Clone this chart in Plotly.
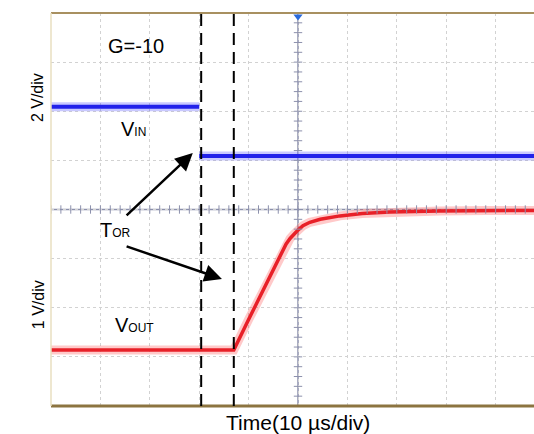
import numpy as np
import plotly.graph_objects as go

# Time axis in microseconds (10 us/div); vertical axis in screen divisions (centre = 0)
vin_t = [0.0, 30.0, None, 30.0, 97.8]
vin_y = [2.09, 2.09, None, 1.09, 1.09]

vout_t = [0, 37.0, 40, 44, 46.5, 47.6, 48.4, 49.2, 50.0, 51.0, 52.4, 54.5, 58.5, 63, 68.6, 78.7, 88, 97.8]
vout_y = [-2.86, -2.86, -2.24, -1.41, -0.90, -0.70, -0.59, -0.50, -0.42, -0.33, -0.26, -0.20,
          -0.13, -0.08, -0.05, -0.03, -0.02, -0.02]

tor_start = 30.4
tor_end = 37.0

X_RANGE = [0, 97.77]
Y_RANGE = [-4, 4]
FONT = "Liberation Sans, Arial, sans-serif"

fig = go.Figure()

# glow + core traces
fig.add_trace(go.Scatter(x=vin_t, y=vin_y, mode="lines",
                         line=dict(color="rgba(60,60,255,0.28)", width=9), hoverinfo="skip"))
fig.add_trace(go.Scatter(x=vin_t, y=vin_y, mode="lines",
                         line=dict(color="#2222ea", width=4), hoverinfo="skip"))
fig.add_trace(go.Scatter(x=vout_t, y=vout_y, mode="lines",
                         line=dict(color="rgba(255,60,60,0.28)", width=9), hoverinfo="skip"))
fig.add_trace(go.Scatter(x=vout_t, y=vout_y, mode="lines",
                         line=dict(color="#e82028", width=3.5), hoverinfo="skip"))

# centre axes tick marks
axis_col = "#8c90ac"
xt = np.arange(0, 98, 2.0)
fig.add_trace(go.Scatter(x=xt, y=np.zeros_like(xt), mode="markers",
                         marker=dict(symbol="line-ns", size=6, line=dict(color=axis_col, width=1)),
                         hoverinfo="skip"))
yt = np.arange(-4, 4.01, 0.2)
fig.add_trace(go.Scatter(x=np.full_like(yt, 50.0), y=yt, mode="markers",
                         marker=dict(symbol="line-ew", size=6, line=dict(color=axis_col, width=1)),
                         hoverinfo="skip"))
# trigger marker
fig.add_trace(go.Scatter(x=[50], y=[3.93], mode="markers", cliponaxis=False,
                         marker=dict(symbol="triangle-down", size=8, color="#2a6adc"),
                         hoverinfo="skip"))

shapes = [
    dict(type="line", xref="x", yref="paper", x0=50, x1=50, y0=0, y1=1,
         line=dict(color=axis_col, width=1.5), layer="below"),
    dict(type="line", xref="paper", yref="y", x0=0, x1=1, y0=0, y1=0,
         line=dict(color=axis_col, width=1.5), layer="below"),
    dict(type="line", xref="paper", yref="paper", x0=0, x1=1, y0=1, y1=1,
         line=dict(color="#a89060", width=2)),
    dict(type="line", xref="paper", yref="paper", x0=0, x1=1, y0=0, y1=0,
         line=dict(color="#8c7440", width=3)),
    dict(type="line", xref="paper", yref="paper", x0=0, x1=0, y0=0, y1=1,
         line=dict(color="#e8dfc0", width=1.5)),
]
for xv in (tor_start, tor_end):
    shapes.append(dict(type="line", xref="x", yref="paper", x0=xv, x1=xv, y0=0, y1=1,
                       line=dict(color="black", width=2, dash="12px,7px")))

tf = dict(family=FONT, size=20, color="black")
sf = dict(family=FONT, size=16, color="black")
annotations = [
    dict(x=17.3, y=3.32, xref="x", yref="y", text="G=-10", showarrow=False, font=tf),
    dict(x=16.7, y=1.64, xref="x", yref="y",
         text="V<span style='font-size:12px'>IN</span>", showarrow=False, font=tf),
    dict(x=13.1, y=-0.42, xref="x", yref="y",
         text="T<span style='font-size:12px'>OR</span>", showarrow=False, font=tf),
    dict(x=16.9, y=-2.36, xref="x", yref="y",
         text="V<span style='font-size:12px'>OUT</span>", showarrow=False, font=tf),
    dict(x=0.512, y=-0.043, xref="paper", yref="paper", text="Time(10 µs/div)",
         showarrow=False, font=dict(family=FONT, size=21, color="black"),
         xanchor="center", yanchor="middle"),
    dict(x=-0.029, y=0.786, xref="paper", yref="paper", text="2 V/div", textangle=-90,
         showarrow=False, font=sf, xanchor="center", yanchor="middle"),
    dict(x=-0.027, y=0.259, xref="paper", yref="paper", text="1 V/div", textangle=-90,
         showarrow=False, font=sf, xanchor="center", yanchor="middle"),
    # arrows
    dict(x=28.7, y=1.15, ax=15.0, ay=-0.15, xref="x", yref="y", axref="x", ayref="y",
         text="", showarrow=True, arrowhead=2, arrowsize=1.4, arrowwidth=2.5,
         arrowcolor="black", standoff=0, startstandoff=0),
    dict(x=34.6, y=-1.415, ax=15.0, ay=-0.74, xref="x", yref="y", axref="x", ayref="y",
         text="", showarrow=True, arrowhead=2, arrowsize=1.4, arrowwidth=2.5,
         arrowcolor="black", standoff=0, startstandoff=0),
]

grid = dict(showgrid=True, gridcolor="#d2d2d2", griddash="dot", gridwidth=1,
            showticklabels=False, zeroline=False, showline=False, ticks="")
fig.update_layout(
    width=534, height=434,
    margin=dict(l=51, r=0, t=13, b=28, pad=0),
    paper_bgcolor="white", plot_bgcolor="white",
    showlegend=False,
    xaxis=dict(range=X_RANGE, dtick=10, tick0=0, **grid),
    yaxis=dict(range=Y_RANGE, dtick=1, tick0=0, **grid),
    shapes=shapes, annotations=annotations,
    font=dict(family=FONT),
)
fig.write_html("out.html", config={"displayModeBar": False},
               post_script="document.body.style.margin='0';document.body.style.overflow='hidden';")
